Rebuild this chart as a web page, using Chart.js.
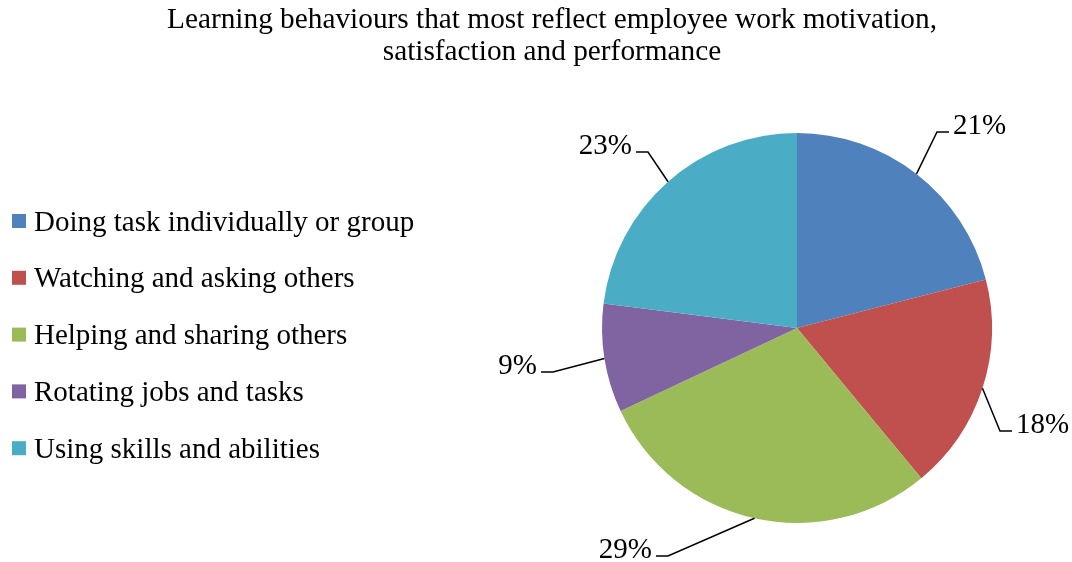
<!DOCTYPE html>
<html>
<head>
<meta charset="utf-8">
<script src="https://cdn.jsdelivr.net/npm/chart.js@4"></script>
<style>
  html, body { margin: 0; padding: 0; background: #fff; }
  #wrap { width: 1072px; height: 562px; position: relative; }
</style>
</head>
<body>
<div id="wrap"><canvas id="pieChart"></canvas></div>
<script>
// Learning behaviours pie chart

const titleLines = [
  "Learning behaviours that most reflect employee work motivation,",
  "satisfaction and performance"
];
const categories = [
  "Doing task individually or group",
  "Watching and asking others",
  "Helping and sharing others",
  "Rotating jobs and tasks",
  "Using skills and abilities"
];
const shares = [21, 18, 29, 9, 23];
const colors = ["#4F81BD", "#C0504D", "#9BBB59", "#8064A2", "#4BACC6"];

const FONT = "'Liberation Serif', 'Times New Roman', serif";

// elbow of each leader line, relative to the pie centre
const LEADERS = [
  { dx: 140, dy: -196, side: 1 },
  { dx: 203, dy: 103, side: 1 },
  { dx: -129, dy: 228, side: -1 },
  { dx: -244, dy: 44, side: -1 },
  { dx: -149, dy: -176, side: -1 },
];

const decorPlugin = {
  id: "decor",
  afterDraw(chart) {
    const ctx = chart.ctx;
    ctx.save();
    ctx.fillStyle = "#000";

    // title (narrow serif)
    ctx.font = "29px " + FONT;
    ctx.textBaseline = "middle";
    ctx.textAlign = "center";
    const sx = 770 / ctx.measureText(titleLines[0]).width;
    ctx.save();
    ctx.translate(552, 0);
    ctx.scale(sx, 1);
    ctx.fillText(titleLines[0], 0, 20);
    ctx.fillText(titleLines[1], 0, 52);
    ctx.restore();

    // legend
    ctx.font = "29px " + FONT;
    ctx.textAlign = "left";
    categories.forEach((c, i) => {
      const y = 222 + i * 56.8;
      ctx.fillStyle = colors[i];
      ctx.fillRect(12, y - 8, 14, 14);
      ctx.fillStyle = "#000";
      ctx.fillText(c, 34, y + 1);
    });

    // percentage labels with leader lines
    const meta = chart.getDatasetMeta(0);
    ctx.strokeStyle = "#000";
    ctx.lineWidth = 1.5;
    ctx.font = "29px " + FONT;
    meta.data.forEach((arc, i) => {
      const p = arc.getProps(["x", "y", "startAngle", "endAngle", "outerRadius"], true);
      const mid = (p.startAngle + p.endAngle) / 2;
      const x0 = p.x + Math.cos(mid) * p.outerRadius;
      const y0 = p.y + Math.sin(mid) * p.outerRadius;
      const L = LEADERS[i];
      const ex = p.x + L.dx, ey = p.y + L.dy;
      const hx = ex + L.side * 12;
      ctx.beginPath();
      ctx.moveTo(x0, y0);
      ctx.lineTo(ex, ey);
      ctx.lineTo(hx, ey);
      ctx.stroke();
      ctx.textAlign = L.side > 0 ? "left" : "right";
      ctx.fillText(shares[i] + "%", hx + L.side * 4, ey - 6);
    });
    ctx.restore();
  }
};

new Chart(document.getElementById("pieChart"), {
  type: "pie",
  data: {
    labels: categories,
    datasets: [{
      data: shares,
      backgroundColor: colors,
      borderWidth: 0,
      hoverOffset: 0,
    }]
  },
  options: {
    responsive: true,
    maintainAspectRatio: false,
    animation: false,
    events: [],
    layout: { padding: { left: 602, right: 80, top: 133, bottom: 39 } },
    plugins: {
      legend: { display: false },
      title: { display: false },
      tooltip: { enabled: false },
    }
  },
  plugins: [decorPlugin]
});
</script>
</body>
</html>
